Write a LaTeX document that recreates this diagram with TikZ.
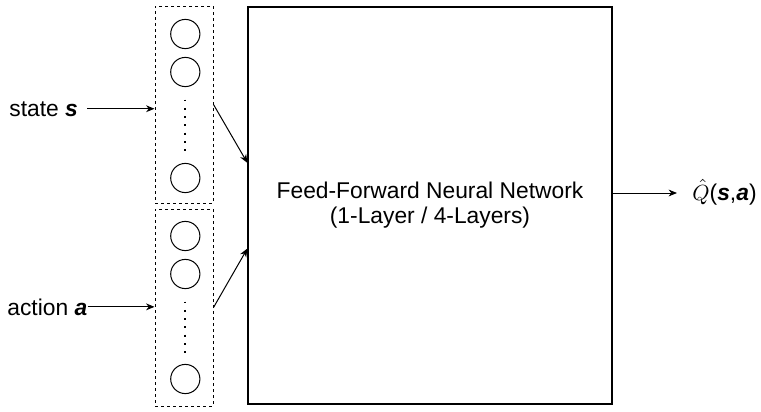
\documentclass[tikz,border=0pt]{standalone}
\usepackage{fontspec}
\setmainfont{Liberation Sans}
\usetikzlibrary{arrows.meta}
\begin{document}
\begin{tikzpicture}[x=0.5pt,y=-0.5pt,
  font=\fontsize{11.4}{12.4}\selectfont,
  every node/.style={inner sep=0pt},
  dbox/.style={draw,line width=0.5pt,dash pattern=on 1.5pt off 1.5pt,minimum width=29pt,minimum height=98.5pt},
  neuron/.style={draw,line width=0.5pt,circle,minimum size=14.6pt},
  bigbox/.style={draw,line width=0.6pt,minimum width=182pt,minimum height=198.5pt,align=center},
  dots/.style={line width=1pt,dash pattern=on 0.9pt off 3.25pt},
  arr/.style={line width=0.5pt,-{Stealth[length=4.2pt,width=3.4pt,inset=1.3pt]}}
]
\useasboundingbox (0,0) rectangle (761,412);
% dashed input groups
\node[dbox] (tb) at (184,104.5) {};
\node[dbox] (bb) at (184,307.5) {};
% neurons
\node[neuron] (t1) at (185.3,34) {};
\node[neuron] (t2) at (185.3,72) {};
\node[neuron] (t3) at (185.3,178) {};
\node[neuron] (b1) at (185.3,236) {};
\node[neuron] (b2) at (185.3,274) {};
\node[neuron] (b3) at (185.3,379) {};
\draw[dots] ([yshift=-6.2pt]t2.south) -- ([yshift=5pt]t3.north);
\draw[dots] ([yshift=-6.2pt]b2.south) -- ([yshift=5pt]b3.north);
% network box
\node[bigbox] (nn) at (430,205.5) {Feed-Forward Neural Network\\(1-Layer / 4-Layers)};
% labels
\node[anchor=base west] (st) at (9,116) {state \textbf{\textit{s}}};
\node[anchor=base west] (ac) at (7,315) {action \textbf{\textit{a}}};
\node[anchor=base west] (q) at (692,200) {$\hat{Q}$(\textbf{\textit{s}},\textbf{\textit{a}})};
% connectors
\draw[arr] ([xshift=4.5pt]st.east) -- (st.east -| tb.west);
\draw[arr] (ac.east) -- (ac.east -| bb.west);
\draw[arr] (tb.east) -- ([yshift=21.3pt]nn.west);
\draw[arr] (bb.east) -- ([yshift=-21.5pt]nn.west);
\draw[arr] ([yshift=6.25pt]nn.east) -- ([xshift=-7.5pt,yshift=6.25pt]nn.east -| q.west);
\end{tikzpicture}
\end{document}
